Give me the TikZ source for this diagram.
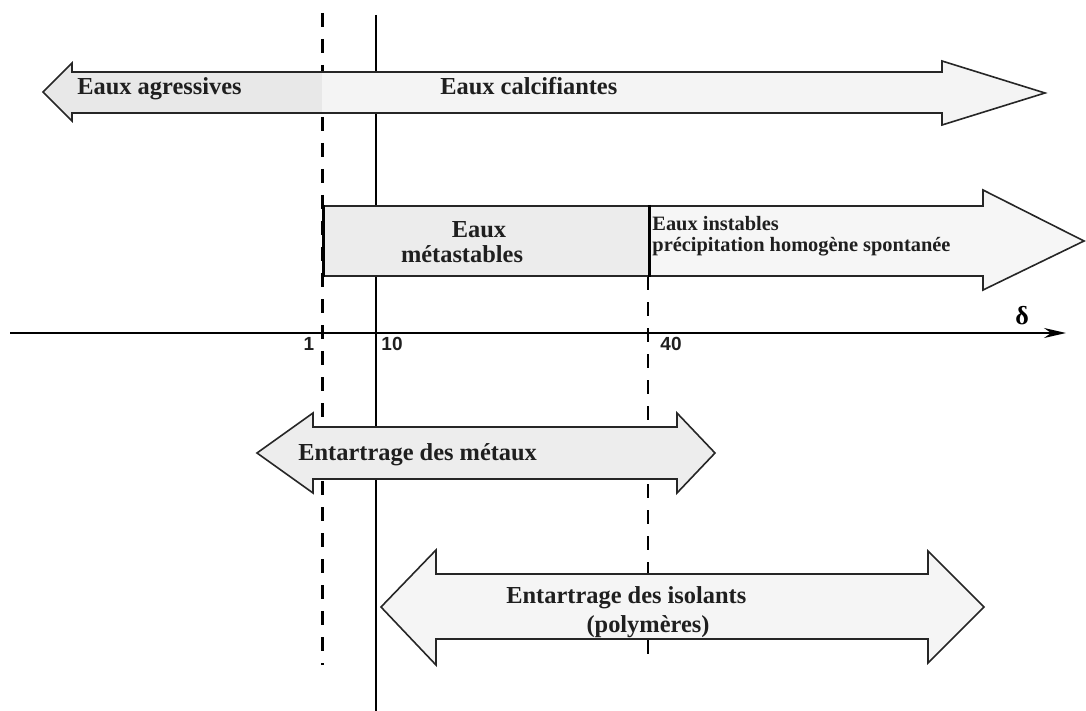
\documentclass[tikz,border=0pt]{standalone}
\usepackage{fontspec}
\setmainfont{Liberation Serif}
\newfontfamily\numfont{Liberation Sans}
\usetikzlibrary{arrows.meta}
\tikzset{
  band/.style={draw=black!85, line width=0.8pt, line join=miter},
  dashline/.style={line width=1.5pt, dash pattern=on 7pt off 6pt},
  thinline/.style={line width=0.7pt},
  lbl/.style={font=\fontsize{12.2}{14}\selectfont\bfseries, inner sep=0pt, text=black!88},
  small/.style={font=\fontsize{10.2}{12.5}\selectfont\bfseries, inner sep=0pt, text=black!88},
  num/.style={font=\numfont\bfseries\fontsize{9.5}{11}\selectfont, inner sep=0pt, text=black!88},
}
\begin{document}
\begin{tikzpicture}[x=0.5pt,y=-0.5pt]
\useasboundingbox (0,0) rectangle (1086,711);
% vertical reference lines
\coordinate (d1t) at (322,13);  \coordinate (d1b) at (322,665);
\coordinate (st)  at (376,15);  \coordinate (sb)  at (376,711);
\coordinate (d2t) at (648,276); \coordinate (d2b) at (648,665);
\draw[dashline] (d1t) -- (d1b);
\draw[thinline] (st) -- (sb);
\draw[dashline, line width=1.1pt] (d2t) -- (d2b);
% axis
\coordinate (a0) at (10,333); \coordinate (a1) at (1066,333);
\draw[line width=1pt, -{Stealth[length=11pt,width=5pt]}] (a0) -- (a1);
\node[num, anchor=base] (n1)  at (309,350) {1};
\node[num, anchor=base] (n10) at (392,350) {10};
\node[num, anchor=base] (n40) at (671,350) {40};
\node[font=\fontsize{13}{15}\selectfont\bfseries, inner sep=0pt] (delta) at (1022,316) {δ};
% top arrow
\fill[gray!18] (43,92) -- (72,63) -- (72,72) -- (322,72) -- (322,113) -- (72,113) -- (72,121) -- cycle;
\fill[gray!9] (322,72) -- (942,72) -- (942,61) -- (1045,93) -- (942,125) -- (942,113) -- (322,113) -- cycle;
\draw[band] (43,92) -- (72,63) -- (72,72) -- (942,72) -- (942,61) -- (1045,93) -- (942,125) -- (942,113) -- (72,113) -- (72,121) -- cycle;
\node[lbl, anchor=base west] (agr) at (77,95) {Eaux agressives};
\node[lbl, anchor=base west] (calc) at (440,95) {Eaux calcifiantes};
% unstable arrow
\fill[gray!7] (649,206) -- (983,206) -- (983,190) -- (1084,241) -- (983,290) -- (983,276) -- (649,276) -- cycle;
\draw[band] (649,206) -- (983,206) -- (983,190) -- (1084,241) -- (983,290) -- (983,276) -- (649,276);
\node[small, anchor=base west] (inst1) at (652,231) {Eaux instables};
\node[small, anchor=base west] (inst2) at (652,251) {précipitation homogène spontanée};
% metastable box
\fill[gray!15] (323,206) rectangle (649,276);
\draw[band] (323,206) -- (649,206) (323,276) -- (649,276);
\draw[line width=1.5pt] (323,205) -- (323,277) (649,205) -- (649,277);
\node[lbl, anchor=base] (meta1) at (479,237) {Eaux};
\node[lbl, anchor=base] (meta2) at (462,263) {métastables};
% metals arrow
\draw[band, fill=gray!14] (257,453) -- (313,413) -- (313,427) -- (677,427) -- (677,413) -- (715,453) -- (677,493) -- (677,479) -- (313,479) -- (313,493) -- cycle;
\node[lbl, anchor=base west] (met) at (298,460) {Entartrage des métaux};
% insulators arrow
\draw[band, fill=gray!8] (381,607) -- (436,550) -- (436,574) -- (928,574) -- (928,551) -- (984,607) -- (928,663) -- (928,639) -- (436,639) -- (436,665) -- cycle;
\node[lbl, anchor=base west] (iso1) at (506,603) {Entartrage des isolants};
\node[lbl, anchor=base] (iso2) at (648,632) {(polymères)};
\end{tikzpicture}
\end{document}
